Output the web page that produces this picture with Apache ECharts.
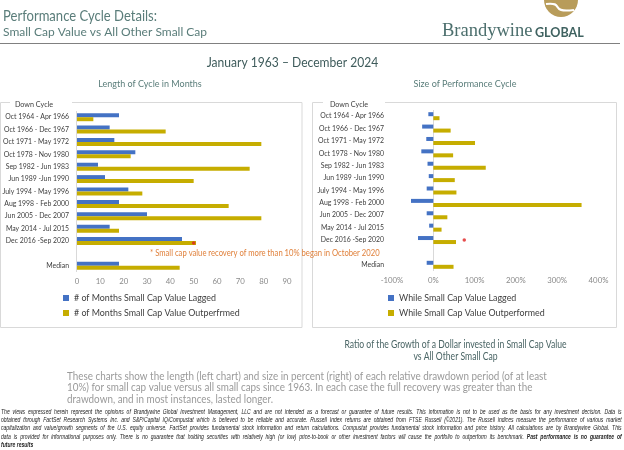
<!DOCTYPE html>
<html>
<head>
<meta charset="utf-8">
<script src="https://cdn.jsdelivr.net/npm/echarts@6/dist/echarts.min.js"></script>
<style>
html,body{margin:0;padding:0;background:#fff;}
#wrap{position:relative;width:624px;height:450px;overflow:hidden;}
#chart{position:absolute;left:0;top:0;width:624px;height:450px;}
#disc{position:absolute;left:1px;top:407.8px;width:862px;transform:scaleX(0.72);transform-origin:0 0;font-family:'Liberation Sans',sans-serif;font-style:italic;font-size:7px;line-height:8.35px;color:#222;}
#disc div{text-align:justify;text-align-last:justify;}
#disc div.last{text-align-last:left;}
</style>
</head>
<body>
<div id="wrap">
<div id="chart"></div>
<div id="disc">
<div>The views expressed herein represent the opinions of Brandywine Global Investment Management, LLC and are not intended as a forecast or guarantee of future results. This information is not to be used as the basis for any investment decision. Data is</div>
<div>obtained through FactSet Research Systems Inc. and S&amp;P/Capital IQ/Compustat which is believed to be reliable and accurate. Russell Index returns are obtained from FTSE Russell (©2021). The Russell indices measure the performance of various market</div>
<div>capitalization and value/growth segments of the U.S. equity universe. FactSet provides fundamental stock information and return calculations. Compustat provides fundamental stock information and price history. All calculations are by Brandywine Global. This</div>
<div>data is provided for informational purposes only. There is no guarantee that holding securities with relatively high (or low) price-to-book or other investment factors will cause the portfolio to outperform its benchmark. <b>Past performance is no guarantee of</b></div>
<div class="last"><b>future results</b></div>
</div>
</div>
<script>
// ---- data ----
const categories = ['Oct 1964 - Apr 1966','Oct 1966 - Dec 1967','Oct 1971 - May 1972','Oct 1978 - Nov 1980','Sep 1982 - Jun 1983','Jun 1989 -Jun 1990','July 1994 - May 1996','Aug 1998 - Feb 2000','Jun 2005 - Dec 2007','May 2014 - Jul 2015','Dec 2016 -Sep 2020','','Median'];
const monthsLagged       = [18,14,16,25, 9,12,22,18,30,14,45,null,18];
const monthsOutperformed = [ 7,38,79,23,74,50,28,65,79,18,51,null,44];
const sizeLagged         = [-12,-27,-17,-29,-14,-11,-16,-54,-16,-10,-37,null,-16];
const sizeOutperformed   = [15,42,101,48,127,52,56,359,34,20,55,null,49];
const starCategory = 'Dec 2016 -Sep 2020';
const starMonths = 50;
const starSize = 75;
const monthTicks = [0,90,10];
const sizeTicks = [-100,400,100];
const seriesNamesLeft = ['# of Months Small Cap Value Lagged','# of Months Small Cap Value Outperfrmed'];
const seriesNamesRight = ['While Small Cap Value Lagged','While Small Cap Value Outperformed'];

const FONT = 'Lato, "Noto Sans", sans-serif';
const BLUE = '#4472c4', GOLD = '#c6ad00', TEAL = '#5a7d7a';

const chart = echarts.init(document.getElementById('chart'), null, {renderer:'canvas'});

function catAxis(gi){
  return {type:'category', gridIndex:gi, data:categories, inverse:true,
    axisLine:{show:false}, axisTick:{show:false},
    axisLabel:{color:'#404040', fontSize:6.9, fontFamily:FONT, margin:8}};
}
function valAxis(gi, t, fmt){
  return {type:'value', gridIndex:gi, min:t[0], max:t[1], interval:t[2],
    splitLine:{show:false}, axisLine:{show:false}, axisTick:{show:false},
    axisLabel:{color:'#8a8a8a', fontSize:7.8, fontFamily:FONT, margin:5, formatter:fmt}};
}
function bar(name, gi, data, color){
  return {name, type:'bar', xAxisIndex:gi, yAxisIndex:gi, data, barWidth:4, barGap:'0%',
    itemStyle:{color}, silent:true};
}
function txt(x, y, text, fill, font, align, sx){
  return {type:'text', x, y, z:10, scaleX:sx||1, style:{text, fill, font, align:align||'left', verticalAlign:'middle'}};
}
function legend(names, left){
  return {data:names, left, top:293.5, padding:0, orient:'vertical', itemWidth:6, itemHeight:6, itemGap:6,
    icon:'rect', textStyle:{color:'#404040', fontSize:8.9, fontFamily:FONT}};
}

const option = {
  animation:false,
  textStyle:{fontFamily:FONT},
  grid:[
    {left:77, top:111, width:210, height:161, outerBoundsMode:'none', containLabel:false},
    {left:392, top:110, width:206.5, height:161, outerBoundsMode:'none', containLabel:false}
  ],
  xAxis:[valAxis(0, monthTicks), valAxis(1, sizeTicks, '{value}%')],
  yAxis:[catAxis(0), catAxis(1)],
  legend:[legend(seriesNamesLeft, 63), legend(seriesNamesRight, 388)],
  series:[
    bar(seriesNamesLeft[0],0,monthsLagged,BLUE),
    bar(seriesNamesLeft[1],0,monthsOutperformed,GOLD),
    bar(seriesNamesRight[0],1,sizeLagged,BLUE),
    bar(seriesNamesRight[1],1,sizeOutperformed,GOLD),
    {type:'scatter', xAxisIndex:0, yAxisIndex:0, data:[[starMonths, starCategory]], symbol:'circle', symbolSize:3.5,
      itemStyle:{color:'#e02020'}, symbolOffset:[0,2], z:5},
    {type:'scatter', xAxisIndex:1, yAxisIndex:1, data:[[starSize, starCategory]], symbol:'circle', symbolSize:3.5,
      itemStyle:{color:'#e02020'}, z:5}
  ],
  graphic:[
    // header
    txt(3, 16, 'Performance Cycle Details:', TEAL, '15px '+FONT, 'left', 0.87),
    txt(3, 32, 'Small Cap Value vs All Other Small Cap', TEAL, '12px '+FONT),
    {type:'line', shape:{x1:0,y1:43.5,x2:620,y2:43.5}, style:{stroke:'#808080', lineWidth:1.2}},
    // logo
    {type:'circle', shape:{cx:561, cy:0, r:17}, style:{fill:'#b89c5a'}},
    {type:'bezierCurve', shape:{x1:546,y1:4,cpx1:566,cpy1:2,cpx2:548,cpy2:13,x2:574,y2:10}, style:{stroke:'#fff', lineWidth:2.2, fill:null}},
    {type:'rect', shape:{x:540, y:17, width:45, height:10}, style:{fill:'#fff'}},
    txt(442, 31, 'Brandywine', '#4b6e6c', '18.5px "Liberation Serif", serif'),
    txt(535, 32.5, 'GLOBAL', '#3f6260', 'bold 13.5px '+FONT, 'left', 0.93),
    // period
    txt(292.5, 63, 'January 1963 \u2013 December 2024', '#3e5b5b', '13px '+FONT, 'center', 0.93),
    // chart titles
    txt(150, 84, 'Length of Cycle in Months', TEAL, '10px '+FONT, 'center', 0.9),
    txt(465, 84, 'Size of Performance Cycle', TEAL, '10px '+FONT, 'center', 0.9),
    // boxes
    {type:'rect', shape:{x:0.5, y:102.5, width:301.5, height:225}, style:{fill:null, stroke:'#d9d9d9', lineWidth:1}, z:-1},
    {type:'rect', shape:{x:312.5, y:102.5, width:304, height:225}, style:{fill:null, stroke:'#d9d9d9', lineWidth:1}, z:-1},
    {type:'rect', shape:{x:10, y:98, width:62, height:10}, style:{fill:'#fff'}},
    {type:'rect', shape:{x:323, y:98, width:62, height:10}, style:{fill:'#fff'}},
    txt(34, 104.5, 'Down Cycle', '#404040', '8px '+FONT, 'center', 0.9),
    txt(349, 104, 'Down Cycle', '#404040', '8px '+FONT, 'center', 0.9),
    // zero lines
    {type:'line', shape:{x1:76.5,y1:111,x2:76.5,y2:272}, style:{stroke:'#d9d9d9', lineWidth:1}},
    {type:'line', shape:{x1:433.5,y1:110,x2:433.5,y2:271}, style:{stroke:'#d9d9d9', lineWidth:1}},
    // annotation
    txt(150, 253.5, '* Small cap value recovery of more than 10% began in October 2020', '#e0813c', '8.5px '+FONT, 'left', 0.9),
    // bottom titles
    txt(455.5, 345, 'Ratio of the Growth of a Dollar invested in Small Cap Value', '#4a6565', '10.5px '+FONT, 'center', 0.82),
    txt(455.5, 357, 'vs All Other Small Cap', '#4a6565', '10.5px '+FONT, 'center', 0.82),
    // paragraph
    txt(67, 376, 'These charts show the length (left chart) and size in percent (right) of each relative drawdown period (of at least', '#9a9a9a', '11.5px '+FONT, 'left', 0.858),
    txt(67, 387.7, '10%) for small cap value versus all small caps since 1963. In each case the full recovery was greater than the', '#9a9a9a', '11.5px '+FONT, 'left', 0.858),
    txt(67, 399.4, 'drawdown, and in most instances, lasted longer.', '#9a9a9a', '11.5px '+FONT, 'left', 0.858)
  ]
};
chart.setOption(option);
</script>
</body>
</html>
